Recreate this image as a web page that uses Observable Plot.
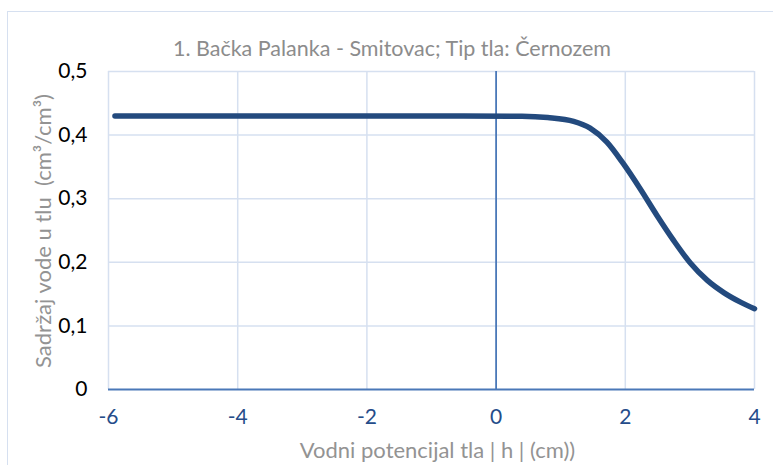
<!DOCTYPE html>
<html>
<head>
<meta charset="utf-8">
<script src="https://cdn.jsdelivr.net/npm/d3@7"></script>
<script src="https://cdn.jsdelivr.net/npm/@observablehq/plot@0.6"></script>
<style>
  html, body { margin: 0; padding: 0; background: #fff; overflow: hidden; }
  #wrap { position: relative; width: 773px; height: 465px; font-family: Lato, "Open Sans", sans-serif; }
  #frame { position: absolute; left: 7px; top: 11px; width: 800px; height: 500px; border: 1px solid #D6E0F0; box-sizing: border-box; }
  #title { position: absolute; left: 0; width: 784px; top: 35px; text-align: center; font-size: 21.5px; line-height: 26px; color: #8C8C8C; }
  #ylab { position: absolute; left: 43px; top: 231px; transform: translate(-50%, -50%) rotate(-90deg); white-space: nowrap; font-size: 22px; line-height: 26px; color: #939393; }
  #xlab { position: absolute; left: 0; width: 875px; top: 437px; text-align: center; font-size: 22px; line-height: 26px; color: #939393; }
  #chart { position: absolute; left: 0; top: 0; }
</style>
</head>
<body>
<div id="wrap">
  <div id="frame"></div>
  <div id="chart"></div>
  <div id="title">1. Bačka Palanka - Smitovac; Tip tla: Černozem</div>
  <div id="ylab">Sadržaj vode u tlu&nbsp; (cm³/cm³)</div>
  <div id="xlab">Vodni potencijal tla | h | (cm))</div>
</div>
<script>
const xPot = [-5.9, -4, -2, -0.5, 0.4, 0.8, 1.2, 1.455, 1.715, 1.97, 2.23, 2.49, 2.75, 3.01, 3.27, 3.53, 3.79, 4.0];
const theta = [0.43, 0.43, 0.43, 0.43, 0.4296, 0.4275, 0.4215, 0.411, 0.389, 0.355, 0.3156, 0.2736, 0.234, 0.1985, 0.1715, 0.152, 0.137, 0.127];
const xTicks = [-6, -4, -2, 0, 2, 4];
const yTicks = [0, 0.1, 0.2, 0.3, 0.4, 0.5];

const data = xPot.map((x, i) => ({x, y: theta[i]}));
const fmt = d => d === 0 ? "0" : String(d).replace(".", ",");

const plot = Plot.plot({
  width: 773,
  height: 465,
  marginLeft: 108,
  marginRight: 19,
  marginTop: 71,
  marginBottom: 76,
  style: {fontFamily: "Lato, 'Open Sans', sans-serif", background: "transparent"},
  x: {domain: [-6, 4]},
  y: {domain: [0, 0.5]},
  marks: [
    Plot.ruleX(xTicks.filter(d => d !== 0), {stroke: "#D6E0F0", strokeWidth: 1.5}),
    Plot.ruleY(yTicks.filter(d => d !== 0), {stroke: "#D6E0F0", strokeWidth: 1.5}),
    Plot.ruleX([0], {stroke: "#4A78B8", strokeWidth: 1.8}),
    Plot.ruleY([0], {stroke: "#4A78B8", strokeWidth: 1.8}),
    Plot.axisY({ticks: yTicks, tickSize: 0, tickPadding: 21, tickFormat: fmt, fontSize: 21, color: "#000", label: null}),
    Plot.axisX({ticks: xTicks, tickSize: 0, tickPadding: 20, tickFormat: fmt, fontSize: 21, color: "#254C8A", label: null}),
    Plot.line(data, {x: "x", y: "y", stroke: "#234A7E", strokeWidth: 5.5, curve: "monotone-x", strokeLinecap: "round"})
  ]
});
document.getElementById("chart").appendChild(plot);
</script>
</body>
</html>
